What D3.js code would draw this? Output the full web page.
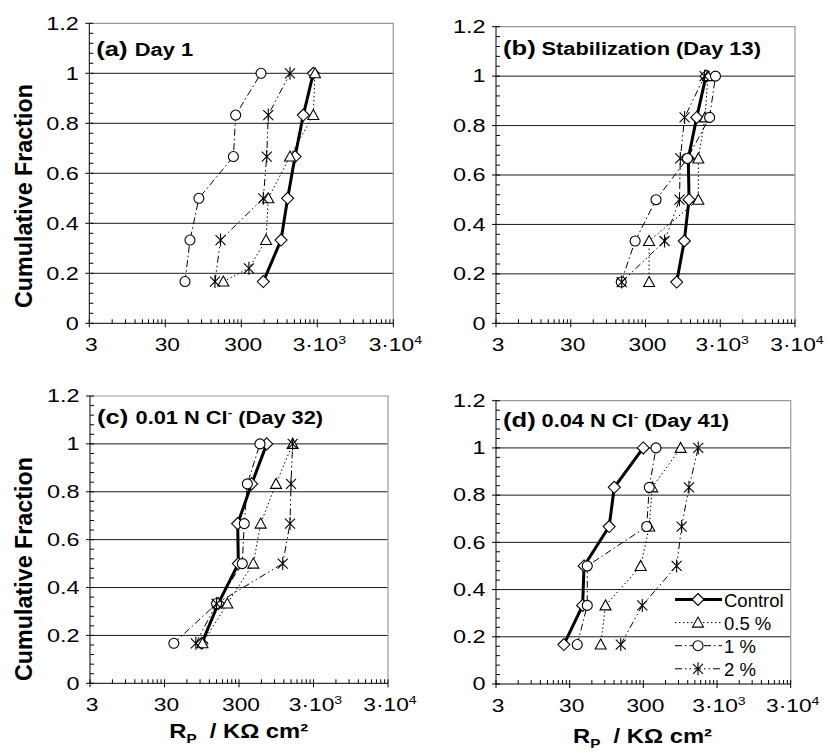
<!DOCTYPE html>
<html>
<head>
<meta charset="utf-8">
<script src="https://cdn.jsdelivr.net/npm/d3@7"></script>
<style>
  body { margin: 0; background: #fff; }
  svg { display: block; }
  text { font-family: "Liberation Sans", Arial, Helvetica, sans-serif; fill: #000; }
</style>
</head>
<body>
<div id="chart"></div>
<script>
// cumulative fraction of each ranked sample (6 samples per series)
var fractions = [0.167, 0.333, 0.5, 0.667, 0.833, 1];
var seriesNames = ["Control", "0.5 %", "1 %", "2 %"];
var panelLabels = ["(a)", "(b)", "(c)", "(d)"];
var panelTitles = ["Day 1", "Stabilization (Day 13)", "0.01 N Cl^- (Day 32)", "0.04 N Cl^- (Day 41)"];
var xTicks = [3, 30, 300, 3000, 30000];
var xTickLabels = ["3", "30", "300", "3·10^3", "3·10^4"];
var yTicks = [0, 0.2, 0.4, 0.6, 0.8, 1, 1.2];
var yTickLabels = ["0", "0.2", "0.4", "0.6", "0.8", "1", "1.2"];

// Rp values (KOhm cm2), panel (a) Day 1
var aControl = [584, 1000, 1222, 1528, 1963, 2657];
var aHalf = [174, 635, 679, 1312, 2657, 2800];
var aOne = [54.5, 63.4, 83, 236, 253, 545];
var aTwo = [135, 160, 584, 648, 679, 1312];
// odd extra point on the 0.5 % line of (a), plotted with a star
var aHalfExtraX = [378];
var aHalfExtraY = [0.22];

// panel (b) Stabilization (Day 13)
var bControl = [784, 991, 1146, 1122, 1453, 1934];
var bHalf = [335, 335, 1527, 1527, 1880, 2050];
var bOne = [142, 218, 415, 1092, 2160, 2590];
var bTwo = [144, 540, 855, 876, 1000, 1850];

// panel (c) 0.01 N Cl- (Day 32)
var cControl = [95, 158, 294, 288, 444, 707];
var cHalf = [97, 209, 467, 586, 942, 1575];
var cOne = [40, 150, 332, 353, 388, 573];
var cTwo = [79, 150, 1159, 1452, 1497, 1575];

// panel (d) 0.04 N Cl- (Day 41)
var dControl = [25, 45, 47, 103, 121, 299];
var dHalf = [79, 92, 276, 361, 396, 962];
var dOne = [38, 52, 52, 333, 361, 445];
var dTwo = [148, 290, 849, 993, 1248, 1668];

var seriesStyle = [
  { width: 3, dash: null, marker: "diamond" },
  { width: 1, dash: "1.5,2.5", marker: "triangle" },
  { width: 1, dash: "7,3,1.5,3", marker: "circle" },
  { width: 1, dash: "7,3,1.5,3,1.5,3", marker: "star" }
];

var panels = [
  { series: [aControl, aHalf, aOne, aTwo], x0: 89.3, x1: 393.3, y0: 323.3, y1: 23.3,
    titleY: 56, yTitle: 196, extra: { series: 1, xs: aHalfExtraX, ys: aHalfExtraY, marker: "star" } },
  { series: [bControl, bHalf, bOne, bTwo], x0: 496, x1: 795, y0: 323.3, y1: 26.7, titleY: 55 },
  { series: [cControl, cHalf, cOne, cTwo], x0: 90, x1: 388, y0: 683.3, y1: 396,
    titleY: 423.5, yTitle: 569, xTitle: [238.7, 738] },
  { series: [dControl, dHalf, dOne, dTwo], x0: 496, x1: 790.7, y0: 684, y1: 400.7,
    titleY: 427, xTitle: [642.5, 743], legend: [675, 606.5] }
];

var svg = d3.select("#chart").append("svg").attr("width", 831).attr("height", 755);

function markerPath(type) {
  if (type === "diamond") return "M0,-6L6,0L0,6L-6,0Z";
  if (type === "triangle") return "M0,-5.5L5.5,4.5L-5.5,4.5Z";
  if (type === "circle") return "M5,0A5,5 0 1,1 -5,0A5,5 0 1,1 5,0Z";
  return "M-5,-5L5,5M-5,5L5,-5M0,-6.5L0,6.5";
}

// text with "^x" superscripts
function richText(sel, str, size) {
  var parts = str.split(/\^(\S)/);
  var raised = false;
  parts.forEach(function (s, i) {
    if (!s) return;
    var t = sel.append("tspan").text(s);
    if (i % 2) { t.attr("font-size", size * 0.62).attr("dy", -size * 0.38); raised = true; }
    else if (raised) { t.attr("dy", size * 0.38); raised = false; }
  });
}

function drawMarkers(g, pts, x, y) {
  g.selectAll(null).data(pts).enter().append("path")
    .attr("transform", function (d) { return "translate(" + x(d.x) + "," + y(d.y) + ")"; })
    .attr("d", function (d) { return markerPath(d.m); })
    .attr("fill", function (d) { return d.m === "star" ? "none" : "#fff"; })
    .attr("stroke", "#000").attr("stroke-width", 1.1);
}

panels.forEach(function (p, pi) {
  var x = d3.scaleLog().domain([3, 30000]).range([p.x0, p.x1]);
  var y = d3.scaleLinear().domain([0, 1.2]).range([p.y0, p.y1]);
  var g = svg.append("g");

  // horizontal gridlines
  g.selectAll(null).data(yTicks.filter(function (v) { return v > 0 && v < 1.2; })).enter().append("line")
    .attr("x1", p.x0).attr("x2", p.x1)
    .attr("y1", function (d) { return y(d); }).attr("y2", function (d) { return y(d); })
    .attr("stroke", "#1a1a1a").attr("stroke-width", 1);
  // grey top and right frame
  g.append("path").attr("d", "M" + p.x0 + "," + y(1.2) + "H" + p.x1 + "V" + p.y0)
    .attr("fill", "none").attr("stroke", "#9a9a9a").attr("stroke-width", 1.2);

  // y axis
  g.append("line").attr("x1", p.x0).attr("x2", p.x0).attr("y1", p.y0).attr("y2", y(1.2))
    .attr("stroke", "#000");
  var yMinor = d3.range(0, 31).map(function (i) { return i * 0.04; })
    .filter(function (v, i) { return i % 5 !== 0; });
  g.selectAll(null).data(yMinor).enter().append("line")
    .attr("x1", p.x0).attr("x2", p.x0 + 4)
    .attr("y1", function (d) { return y(d); }).attr("y2", function (d) { return y(d); })
    .attr("stroke", "#000");
  g.selectAll(null).data(yTicks).enter().append("line")
    .attr("x1", p.x0 - 4).attr("x2", p.x0 + 4)
    .attr("y1", function (d) { return y(d); }).attr("y2", function (d) { return y(d); })
    .attr("stroke", "#000");
  g.selectAll(null).data(yTicks).enter().append("g")
    .attr("transform", function (d) { return "translate(" + (p.x0 - 10.5) + "," + (y(d) + 6.3) + ") scale(1.34,1)"; })
    .append("text").attr("text-anchor", "end").attr("font-size", 17.5)
    .text(function (d, i) { return yTickLabels[i]; });

  // x axis
  g.append("line").attr("x1", p.x0).attr("x2", p.x1).attr("y1", p.y0).attr("y2", p.y0)
    .attr("stroke", "#000");
  var xMinor = [];
  xTicks.slice(0, -1).forEach(function (t) {
    d3.range(2, 10).forEach(function (m) { xMinor.push(t * m); });
  });
  g.selectAll(null).data(xMinor).enter().append("line")
    .attr("x1", function (d) { return x(d); }).attr("x2", function (d) { return x(d); })
    .attr("y1", p.y0 - 4).attr("y2", p.y0)
    .attr("stroke", "#000");
  g.selectAll(null).data(xTicks).enter().append("line")
    .attr("x1", function (d) { return x(d); }).attr("x2", function (d) { return x(d); })
    .attr("y1", p.y0 - 4).attr("y2", p.y0 + 4)
    .attr("stroke", "#000");
  g.selectAll(null).data(xTicks).enter().append("g")
    .attr("transform", function (d) { return "translate(" + (x(d) + 2) + "," + (p.y0 + 27.5) + ") scale(1.3,1)"; })
    .append("text").attr("text-anchor", "middle").attr("font-size", 17.5)
    .each(function (d, i) { richText(d3.select(this), xTickLabels[i], 17.5); });

  // panel title
  var tg = g.append("g").attr("transform", "translate(" + (p.x0 + 7) + "," + p.titleY + ")");
  tg.append("text").attr("transform", "scale(1.22,1)").attr("font-size", 21).attr("font-weight", "bold")
    .text(panelLabels[pi]);
  tg.append("text").attr("transform", "translate(38.5,0) scale(1.18,1)")
    .attr("font-size", 18.5).attr("font-weight", "bold")
    .call(function (t) { richText(t, panelTitles[pi], 18.5); });

  if (p.yTitle) {
    g.append("text").attr("transform", "translate(32," + p.yTitle + ") rotate(-90)")
      .attr("text-anchor", "middle").attr("font-size", 23.3).attr("font-weight", "bold")
      .text("Cumulative Fraction");
  }
  if (p.xTitle) {
    var xt = g.append("text")
      .attr("transform", "translate(" + p.xTitle[0] + "," + p.xTitle[1] + ") scale(1.22,1)")
      .attr("text-anchor", "middle").attr("font-size", 19.5).attr("font-weight", "bold");
    xt.append("tspan").text("R");
    xt.append("tspan").attr("font-size", 12.5).attr("dy", 5).text("P");
    xt.append("tspan").attr("dy", -5).text("\u00a0 / K\u03a9 cm\u00b2");
  }

  // series
  var line = d3.line().x(function (d) { return x(d.x); }).y(function (d) { return y(d.y); });
  p.series.forEach(function (xs, si) {
    var st = seriesStyle[si];
    var pts = xs.map(function (v, i) { return { x: v, y: fractions[i], m: st.marker }; });
    if (p.extra && p.extra.series === si) {
      p.extra.xs.forEach(function (v, i) { pts.push({ x: v, y: p.extra.ys[i], m: p.extra.marker }); });
      pts.sort(function (a, b) { return a.y - b.y; });
    }
    g.append("path").datum(pts).attr("d", line)
      .attr("fill", "none").attr("stroke", "#000").attr("stroke-width", st.width)
      .attr("stroke-dasharray", st.dash);
    drawMarkers(g, pts, x, y);
  });

  // legend
  if (p.legend) {
    var lx = p.legend[0], ly = p.legend[1];
    seriesNames.forEach(function (name, si) {
      var st = seriesStyle[si];
      var by = ly + si * 23.1;
      g.append("line").attr("x1", lx).attr("x2", lx + 47).attr("y1", by - 7).attr("y2", by - 7)
        .attr("stroke", "#000").attr("stroke-width", st.width).attr("stroke-dasharray", st.dash);
      g.append("path").attr("transform", "translate(" + (lx + 23) + "," + (by - 7) + ")")
        .attr("d", markerPath(st.marker))
        .attr("fill", st.marker === "star" ? "none" : "#fff")
        .attr("stroke", "#000").attr("stroke-width", 1.1);
      g.append("text").attr("x", lx + 49).attr("y", by).attr("font-size", 18.5).text(name);
    });
  }
});
</script>
</body>
</html>
